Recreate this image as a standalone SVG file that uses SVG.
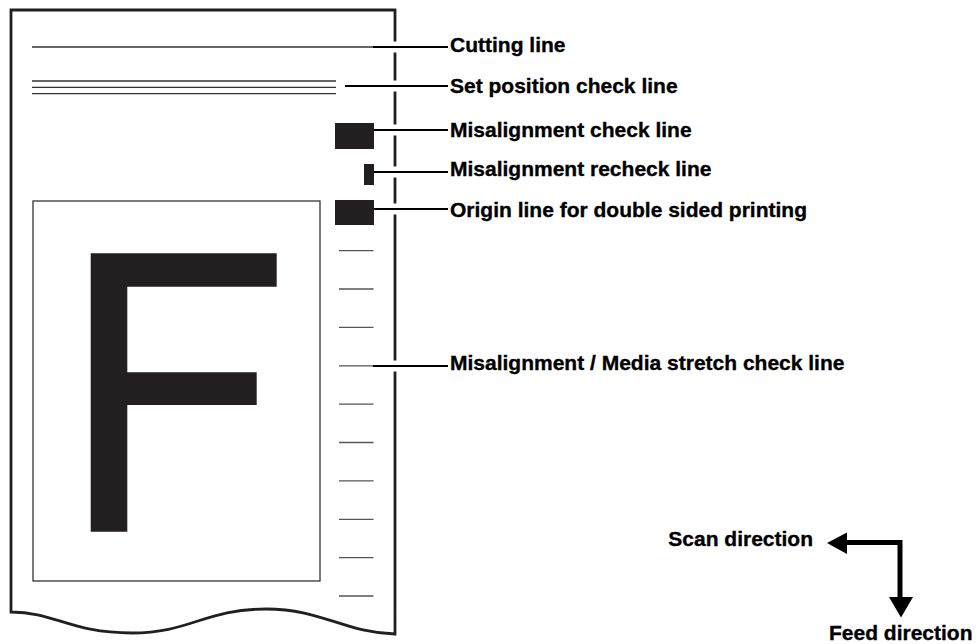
<svg xmlns="http://www.w3.org/2000/svg" width="980" height="644" viewBox="0 0 980 644">
<style>
.lbl{font-family:"Liberation Sans",Arial,sans-serif;font-weight:bold;font-size:21px;fill:#000;stroke:#000;stroke-width:0.35}
.thin{stroke:#333;stroke-width:1.3;fill:none}
.tick{stroke:#555;stroke-width:1.3}
.blk{fill:#231f20}
.lead{stroke:#000;stroke-width:2;fill:none}
.halo{stroke:#fff;stroke-width:11;fill:none}
</style>
<rect width="980" height="644" fill="#fff"/>
<g id="paper">
<path d="M11,612 L11,10 L395,10 L395,634 C345,633 322,609 266,609 C205,609 190,633 132,633 C70,633 55,612 11,612 Z" fill="#fff" stroke="#231f20" stroke-width="2.8" stroke-linejoin="miter"/>
</g>
<g id="print-area">
<rect x="33" y="201" width="287" height="380" class="thin"/>
<path class="blk" d="M90.7,253.3 H276.7 V286.7 H127.3 V372.3 H256.7 V405 H127.3 V531.7 H90.7 Z"/>
</g>
<g id="cutting-line"><line x1="32" y1="47" x2="373" y2="47" class="thin"/></g>
<g id="set-position-check-line">
<line x1="32" y1="81" x2="336" y2="81" class="thin"/>
<line x1="32" y1="87.3" x2="336" y2="87.3" class="thin"/>
<line x1="32" y1="93.7" x2="336" y2="93.7" class="thin"/>
</g>
<g id="misalignment-check-line"><rect x="335" y="123" width="39" height="26" class="blk"/></g>
<g id="misalignment-recheck-line"><rect x="364" y="164" width="10" height="21" class="blk"/></g>
<g id="origin-line"><rect x="335" y="200" width="39" height="25" class="blk"/></g>
<g id="stretch-ticks">
<line x1="339" y1="250.7" x2="373.5" y2="250.7" class="tick"/>
<line x1="339" y1="289" x2="373.5" y2="289" class="tick"/>
<line x1="339" y1="327.4" x2="373.5" y2="327.4" class="tick"/>
<line x1="339" y1="365.8" x2="373.5" y2="365.8" class="tick"/>
<line x1="339" y1="404.2" x2="373.5" y2="404.2" class="tick"/>
<line x1="339" y1="442.5" x2="373.5" y2="442.5" class="tick"/>
<line x1="339" y1="480.9" x2="373.5" y2="480.9" class="tick"/>
<line x1="339" y1="519.3" x2="373.5" y2="519.3" class="tick"/>
<line x1="339" y1="557.6" x2="373.5" y2="557.6" class="tick"/>
<line x1="339" y1="596" x2="373.5" y2="596" class="tick"/>
</g>
<g id="connectors">
<path class="halo" d="M390,47 H400 M390,86 H400 M390,130 H400 M390,172 H400 M390,209 H400 M390,366 H400"/>
<line x1="373" y1="47" x2="448" y2="47" class="lead"/>
<line x1="345" y1="86" x2="448" y2="86" class="lead"/>
<line x1="374" y1="130" x2="448" y2="130" class="lead"/>
<line x1="374" y1="172" x2="448" y2="172" class="lead"/>
<line x1="374" y1="209" x2="448" y2="209" class="lead"/>
<line x1="373" y1="366" x2="448" y2="366" class="lead"/>
</g>
<g id="labels">
<text class="lbl" x="450" y="51.5">Cutting line</text>
<text class="lbl" x="450" y="93">Set position check line</text>
<text class="lbl" x="450" y="136.5">Misalignment check line</text>
<text class="lbl" x="450" y="175.5">Misalignment recheck line</text>
<text class="lbl" x="450" y="216.5">Origin line for double sided printing</text>
<text class="lbl" x="450" y="370">Misalignment / Media stretch check line</text>
</g>
<g id="direction-arrows">
<polyline points="846,542.5 900,542.5 900,598" fill="none" stroke="#000" stroke-width="5"/>
<polygon points="827,543 847,532.5 847,554" fill="#000"/>
<polygon points="889,597 913,597 901,617.5" fill="#000"/>
<text class="lbl" x="813" y="545.5" text-anchor="end">Scan direction</text>
<text class="lbl" x="829" y="639.5">Feed direction</text>
</g>
</svg>
